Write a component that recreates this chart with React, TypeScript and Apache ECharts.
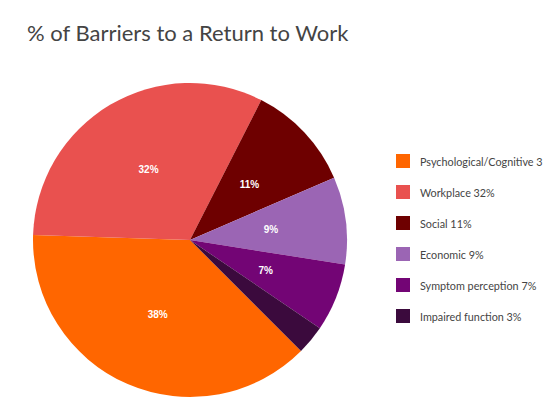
import React, { useEffect, useRef } from "react";
import * as echarts from "echarts";

const categories = [
  "Psychological/Cognitive",
  "Workplace",
  "Social",
  "Economic",
  "Symptom perception",
  "Impaired function",
];
const values = [38, 32, 11, 9, 7, 3];
const colors = ["#FF6600", "#E9514F", "#6E0000", "#9B65B4", "#730575", "#3B0A3D"];

export default function App() {
  const ref = useRef<HTMLDivElement>(null);
  useEffect(() => {
    if (!ref.current) return;
    const chart = echarts.init(ref.current, null, { renderer: "svg" });
    chart.setOption({
      animation: false,
      backgroundColor: "#ffffff",
      title: {
        text: "% of Barriers to a Return to Work",
        left: 22,
        top: 16,
        textStyle: {
          fontFamily: "Lato",
          fontSize: 22,
          fontWeight: "normal",
          color: "#444444",
        },
      },
      legend: {
        orient: "vertical",
        left: 391,
        top: 149,
        itemWidth: 14,
        itemHeight: 14,
        itemGap: 17,
        icon: "rect",
        formatter: (name: string) => {
          const i = categories.indexOf(name);
          return `${name} ${values[i]}%`;
        },
        textStyle: {
          fontFamily: "Lato",
          fontSize: 10.8,
          color: "#444444",
          padding: [0, 0, 0, 5],
          width: 127,
          overflow: "truncate",
          ellipsis: "",
        },
      },
      series: [
        {
          type: "pie",
          center: [190, 240],
          radius: 157,
          startAngle: 315,
          clockwise: true,
          data: categories.map((name, i) => ({
            name,
            value: values[i],
            itemStyle: { color: colors[i] },
          })),
          label: {
            show: true,
            position: "inside",
            formatter: (p: any) => (p.value >= 5 ? `${p.value}%` : ""),
            color: "#ffffff",
            fontFamily: "Arial",
            fontWeight: "bold",
            fontSize: 10,
          },
          labelLine: { show: false },
          emphasis: { disabled: true },
        },
      ],
    });
    return () => chart.dispose();
  }, []);
  return (
    <div
      ref={ref}
      style={{ position: "fixed", left: 0, top: 0, width: 543, height: 399 }}
    />
  );
}
